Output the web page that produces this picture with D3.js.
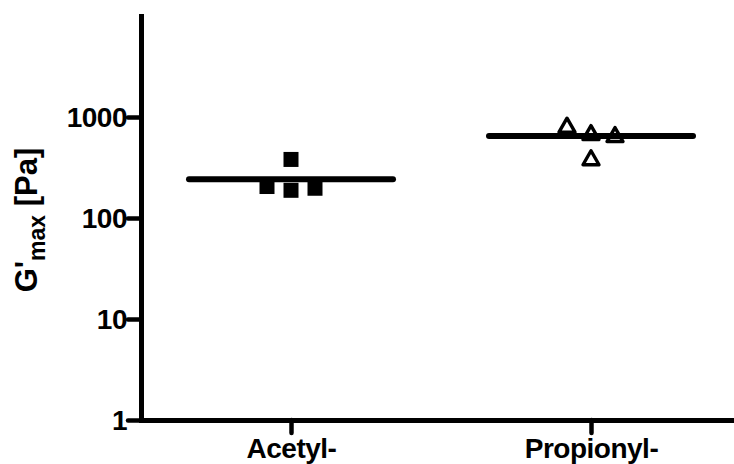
<!DOCTYPE html>
<html>
<head>
<meta charset="utf-8">
<script src="https://cdn.jsdelivr.net/npm/d3@7"></script>
<style>
  html, body { margin: 0; padding: 0; background: #fff; }
  svg { display: block; }
  text { font-family: "Liberation Sans", Arial, sans-serif; font-weight: bold; fill: #000; }
</style>
</head>
<body>
<svg id="chart" width="734" height="464"></svg>
<script>
// Groups shown along the x axis
const categories = ["Acetyl-", "Propionyl-"];
// Individual G'max measurements per group (Pa)
const acetylValues = [380, 205, 188, 197];
const propionylValues = [830, 700, 670, 395];
// Decade ticks on the log axis
const yTicks = [1, 10, 100, 1000];

const groups = [
  { name: categories[0], values: acetylValues, marker: "square" },
  { name: categories[1], values: propionylValues, marker: "triangle" }
];

const svg = d3.select("#chart");

const x = d3.scalePoint().domain(categories).range([141, 741]).padding(0.5);
const y = d3.scaleLog().domain([1, 10000]).range([420, 16]);

const axisStroke = 5;

// y axis
const yAxis = svg.append("g")
  .attr("transform", "translate(141,0)")
  .call(d3.axisLeft(y).tickValues(yTicks).tickFormat(d3.format("d")).tickSize(13).tickSizeOuter(0).tickPadding(3));

// x axis
const xAxis = svg.append("g")
  .attr("transform", "translate(0,420)")
  .call(d3.axisBottom(x).tickSize(13).tickSizeOuter(0).tickPadding(3));

[yAxis, xAxis].forEach(g => {
  g.attr("font-family", null).attr("font-size", null);
  g.select(".domain").attr("stroke", "#000").attr("stroke-width", axisStroke).attr("stroke-linecap", "square");
  g.selectAll(".tick line").attr("stroke", "#000").attr("stroke-width", 4.5).attr("stroke-linecap", "round");
  g.selectAll(".tick text").style("font-size", "28px").style("letter-spacing", "-0.5px").attr("fill", "#000");
});
yAxis.selectAll(".tick text").attr("x", -14).attr("dy", "0.35em");
xAxis.selectAll(".tick text").attr("y", 38).attr("dy", 0);

// y axis title with subscript
const title = svg.append("text")
  .attr("transform", "translate(37,220) rotate(-90)")
  .attr("text-anchor", "middle")
  .style("font-size", "31px");
title.append("tspan").text("G'");
title.append("tspan").attr("dy", 8).style("font-size", "23px").text("max");
title.append("tspan").attr("dy", -8).text(" [Pa]");

// Spread points that would overlap into side-by-side rows
const spread = 24;
const markerBox = 18;
function layout(values) {
  const clusters = [];
  values.forEach(v => {
    const py = y(v);
    const last = clusters[clusters.length - 1];
    if (last && Math.abs(y(last[0]) - py) < markerBox) last.push(v);
    else clusters.push([v]);
  });
  const out = [];
  clusters.forEach(c => c.forEach((v, i) => out.push({ v, dx: (i - (c.length - 1) / 2) * spread })));
  return out;
}

const triW = 16, triH = 14;
const triPath = `M0,${-triH / 2}L${triW / 2},${triH / 2}L${-triW / 2},${triH / 2}Z`;
const sq = 15;

groups.forEach(g => {
  const cx = x(g.name);
  const mean = d3.mean(g.values);
  const pts = layout(g.values);
  const layer = svg.append("g");

  if (g.marker === "square") {
    layer.selectAll("rect").data(pts).join("rect")
      .attr("x", d => cx + d.dx - sq / 2)
      .attr("y", d => y(d.v) - sq / 2)
      .attr("width", sq).attr("height", sq)
      .attr("fill", "#000");
  } else {
    layer.selectAll("path").data(pts).join("path")
      .attr("d", triPath)
      .attr("transform", d => `translate(${cx + d.dx},${y(d.v)})`)
      .attr("fill", "none").attr("stroke", "#000").attr("stroke-width", 3.4)
      .attr("stroke-linejoin", "round");
  }

  // mean line
  layer.append("line")
    .attr("x1", cx - 102).attr("x2", cx + 102)
    .attr("y1", y(mean)).attr("y2", y(mean))
    .attr("stroke", "#000").attr("stroke-width", 6).attr("stroke-linecap", "round");
});
</script>
</body>
</html>
